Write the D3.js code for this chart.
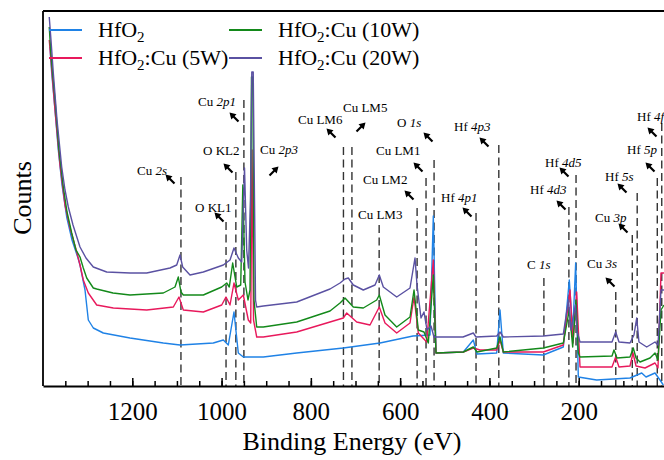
<!DOCTYPE html>
<html>
<head>
<meta charset="utf-8">
<script src="https://cdn.jsdelivr.net/npm/d3@7/dist/d3.min.js"></script>
<style>
  html, body { margin: 0; padding: 0; background: #fff; }
  svg { display: block; }
  svg text { font-family: "Liberation Serif", "Times New Roman", serif; }
</style>
</head>
<body>
<svg id="chart" width="664" height="460"></svg>
<script>
// XPS survey spectra of HfO2 films with Cu doping at different sputtering powers.
// Each series: [binding energy (eV), counts (a.u.)]

const seriesNames = ["HfO2", "HfO2:Cu (5W)", "HfO2:Cu (10W)", "HfO2:Cu (20W)"];
const seriesColors = ["#1f82e6", "#e8195c", "#13891a", "#5a51a2"];

const hfo2 = [
  [1384.3,339],[1380.5,313],[1373.1,276],[1365.7,236],[1357.4,201],[1346.9,169],[1335.0,146],
  [1321.6,128],[1317.1,121],[1305.9,96],[1298.5,66],[1287.3,58],[1264.9,53],[1205.1,48],
  [1130.5,43],[1093.1,41],[1018.5,43],[996.1,46],[984.9,41],[972.2,74],[962.5,33],[951.3,29],
  [906.5,29],[831.7,33],[727.3,38],[645.1,43],[571.2,50],[533.1,51],[525.7,170],[519.7,33],
  [458.5,34],[436.1,46],[427.8,32],[383.7,33],[376.3,76],[368.9,33],[279.3,31],[234.5,39],
  [221.1,106],[213.5,53],[206.8,123],[200.9,9],[159.8,6],[85.1,8],[58.9,13],[49.2,9],
  [29.1,13],[18.0,6],[10.5,1]
];

const hfo2Cu5W = [
  [1386,346],[1382.1,326],[1373.1,276],[1361.9,221],[1350.7,181],[1339.5,158],[1324.5,134],
  [1317.1,121],[1309.7,106],[1298.5,93],[1279.7,81],[1242.5,78],[1167.7,76],[1108.1,79],
  [1095.4,89],[1085.7,76],[1040.9,74],[999.7,81],[990.1,89],[981.1,81],[972.2,103],[962.5,86],
  [951.3,91],[940.1,66],[934.7,63],[931.8,236],[928.4,66],[921.3,49],[906.5,49],[831.7,54],
  [757.1,64],[727.3,68],[719.7,73],[697.3,64],[667.5,61],[646.7,79],[633.9,63],[607.7,53],
  [577.9,63],[568.9,89],[559.3,53],[540.5,44],[525.7,126],[519.7,33],[458.5,34],[436.1,38],
  [421.1,36],[383.7,36],[376.3,46],[368.9,34],[279.3,34],[234.5,41],[219.5,96],[212.8,43],
  [204.6,94],[197.1,19],[125.4,19],[117.2,29],[109.8,19],[85.1,20],[78.4,33],[71.6,20],
  [51.5,18],[29.1,23],[22.4,18],[15.7,113],[9.0,113]
];

const hfo2Cu10W = [
  [1386,359],[1382.1,331],[1373.1,286],[1364.2,236],[1354.5,199],[1346.2,174],[1335.7,153],
  [1326.1,136],[1317.1,129],[1309.7,118],[1302.1,108],[1287.3,98],[1279.7,97],[1243.2,93],
  [1205.1,91],[1130.5,93],[1104.3,99],[1096.9,109],[1090.9,94],[1085.7,91],[1040.9,91],
  [999.7,99],[988.5,103],[982.7,99],[975.1,123],[966.1,99],[957.1,101],[952.4,201],[947.5,104],
  [940.8,86],[936.3,96],[933.0,309],[930.0,309],[927.4,86],[921.3,59],[906.5,59],[831.7,64],
  [757.1,75],[734.7,83],[723.5,88],[704.9,79],[682.5,78],[652.5,86],[646.7,91],[633.9,71],
  [607.7,59],[577.9,69],[568.9,96],[559.3,56],[546.6,54],[536.9,43],[525.7,111],[519.7,33],
  [458.5,34],[436.1,39],[427.8,34],[383.7,38],[376.3,49],[368.9,34],[279.3,38],[234.5,43],
  [221.1,76],[213.5,39],[206.1,86],[200.9,33],[197.1,29],[125.4,30],[121.0,36],[114.3,28],
  [85.1,29],[77.8,38],[71.6,28],[62.7,24],[40.3,28],[29.1,33],[22.4,26],[15.7,76],[9.0,81]
];

const hfo2Cu20W = [
  [1386,369],[1382.1,346],[1376.9,313],[1368.6,266],[1358.1,219],[1350.7,196],[1343.3,179],
  [1332.8,161],[1317.1,139],[1303.7,128],[1287.3,119],[1257.3,114],[1205.1,113],[1167.7,113],
  [1115.5,118],[1100.5,121],[1093.1,131],[1087.1,119],[1070.7,111],[1040.9,114],[996.1,121],
  [981.1,126],[972.2,138],[962.5,128],[954.9,124],[948.6,218],[943.7,136],[939.7,118],
  [935.2,186],[932.3,314],[929.1,314],[926.2,186],[924.0,86],[921.3,79],[906.5,80],[831.7,84],
  [757.1,97],[734.7,103],[723.5,107],[716.1,108],[704.9,101],[682.5,96],[656.3,101],[646.7,111],
  [637.7,99],[607.7,89],[577.9,98],[571.2,116],[566.7,128],[562.2,101],[553.3,68],[546.6,74],
  [539.8,56],[530.9,60],[524.2,49],[459.2,49],[436.1,53],[430.1,49],[383.7,50],[376.3,54],
  [368.9,49],[279.3,50],[234.5,52],[222.9,86],[217.4,56],[207.4,81],[204.0,55],[197.1,44],
  [125.4,44],[117.2,54],[109.8,44],[85.1,43],[76.2,51],[70.1,68],[65.0,44],[47.7,39],
  [29.1,44],[22.4,41],[15.7,96],[9.0,96]
];

const seriesData = [hfo2, hfo2Cu5W, hfo2Cu10W, hfo2Cu20W];

// Axis ticks
const majorTicks = [1200, 1000, 800, 600, 400, 200];
const minorTicks = d3.range(1350, 0, -50);

// Peak assignments with marker lines (label, binding energy in eV)
const peakNames = ["Cu 2s","O KL1","O KL2","Cu 2p1","Cu LM6","Cu LM5","Cu LM3","Cu LM2","Cu LM1",
  "O 1s","Hf 4p1","Hf 4p3","C 1s","Hf 4d3","Hf 4d5","Cu 3s","Cu 3p","Hf 5s","Hf 5p","Hf 4f"];
const peakEnergies = [1091, 990, 968, 950, 727, 708, 647, 562, 542,
  524, 430, 379, 278, 222, 206, 117, 80, 69, 24, 14];
// Unlined annotation for the main Cu 2p3 line
const extraNames = ["Cu 2p3"];

// Annotation layout: [label left x, label baseline, arrow cx, arrow cy, arrow direction, marker top y]
const peakLayout = [
  [137,175, 170,179,"nw",177],
  [195,212, 219,217,"nw",222],
  [203,155, 228,168,"nw",172],
  [198,106, 234,117,"nw",100],
  [298,124, 331,133,"nw",147],
  [343,112, 361,127,"ne",147],
  [358,219, null,null,null,225],
  [363,184, 409,195,"nw",208],
  [376,155, 418,167,"nw",178],
  [397,127, 428,137,"nw",160],
  [441,202, 467,212,"nw",213],
  [454,131, 484,142,"nw",145],
  [527,269, null,null,null,278],
  [530,194, 561,205,"nw",207],
  [545,167, 564,172,"nw",175],
  [587,268, 610,282,"nw",292],
  [595,222, 623,228,"nw",235],
  [605,181, 622,188,"nw",193],
  [627,154, 650,167,"nw",178],
  [637,121, 652,132,"nw",123]
];
const extraLayout = [[260,154, 274,171,"ne"]];

// ---- chart ----
const svg = d3.select("#chart");
const plot = { left: 43, right: 668, top: 11, bottom: 386 };
const serif = "Liberation Serif, Times New Roman, serif";

const x = d3.scaleLinear().domain([1400, 0]).range([plot.left, plot.right]);
const y = d3.scaleLinear().domain([0, 375]).range([plot.bottom, plot.top]);

svg.append("defs").append("clipPath").attr("id", "plotClip")
  .append("rect").attr("x", plot.left).attr("y", plot.top)
  .attr("width", plot.right - plot.left).attr("height", plot.bottom - plot.top);

// Peak marker lines
const markers = svg.append("g").attr("clip-path", "url(#plotClip)");
peakEnergies.forEach((e, i) => {
  markers.append("line")
    .attr("x1", x(e)).attr("x2", x(e))
    .attr("y1", peakLayout[i][5]).attr("y2", plot.bottom)
    .attr("stroke", "#333").attr("stroke-width", 1.4)
    .attr("stroke-dasharray", "8,4.5");
});

// Spectra
const line = d3.line().x(d => x(d[0])).y(d => y(d[1]));
const curves = svg.append("g").attr("clip-path", "url(#plotClip)");
seriesData.forEach((s, i) => {
  curves.append("path").datum(s)
    .attr("d", line)
    .attr("fill", "none")
    .attr("stroke", seriesColors[i])
    .attr("stroke-width", 1.4)
    .attr("stroke-linejoin", "round");
});

// Frame
svg.append("line").attr("x1", plot.left).attr("x2", plot.right)
  .attr("y1", plot.top).attr("y2", plot.top).attr("stroke", "#000").attr("stroke-width", 1.8);
svg.append("line").attr("x1", plot.left).attr("x2", plot.left)
  .attr("y1", plot.top).attr("y2", plot.bottom).attr("stroke", "#000").attr("stroke-width", 1.8);
svg.append("line").attr("x1", plot.right).attr("x2", plot.right)
  .attr("y1", plot.top).attr("y2", plot.bottom).attr("stroke", "#000").attr("stroke-width", 1.8);

// Bottom axis: minor ticks then major ticks with labels (ticks point inward)
const minorAxis = d3.axisBottom(x).tickValues(minorTicks).tickSizeInner(-5).tickSizeOuter(0).tickFormat("");
const gMinor = svg.append("g").attr("transform", `translate(0,${plot.bottom})`).call(minorAxis);
gMinor.select(".domain").remove();
gMinor.selectAll(".tick line").attr("stroke", "#000").attr("stroke-width", 1.5);

const majorAxis = d3.axisBottom(x).tickValues(majorTicks).tickSizeInner(-8).tickSizeOuter(0)
  .tickPadding(16).tickFormat(d3.format("d"));
const gMajor = svg.append("g").attr("transform", `translate(0,${plot.bottom})`).call(majorAxis)
  .attr("font-family", serif).attr("font-size", 25);
gMajor.select(".domain").attr("stroke", "#000").attr("stroke-width", 1.8);
gMajor.selectAll(".tick line").attr("stroke", "#000").attr("stroke-width", 1.5);
gMajor.selectAll(".tick text").attr("fill", "#000");

// Axis titles
svg.append("text").attr("x", 352).attr("y", 450).attr("text-anchor", "middle")
  .attr("font-size", 26).attr("fill", "#000").text("Binding Energy (eV)");
svg.append("text").attr("transform", "translate(31,198) rotate(-90)").attr("text-anchor", "middle")
  .attr("font-size", 26).attr("fill", "#000").text("Counts");

// Arrows
function arrow(g, cx, cy, dir) {
  const sx = dir === "ne" ? 1 : -1;
  const tip = [cx + sx * 4.5, cy - 4.5];
  const tail = [cx - sx * 4.5, cy + 4.5];
  g.append("line")
    .attr("x1", tail[0]).attr("y1", tail[1])
    .attr("x2", tip[0] - sx * 2.5).attr("y2", tip[1] + 2.5)
    .attr("stroke", "#000").attr("stroke-width", 2.2);
  g.append("path")
    .attr("d", `M${tip[0]},${tip[1]} L${tip[0] - sx * 7},${tip[1] + 1.8} L${tip[0] - sx * 1.8},${tip[1] + 7} Z`)
    .attr("fill", "#000");
}

function peakLabel(g, name, lx, ly) {
  const parts = name.split(" ");
  const t = g.append("text").attr("x", lx).attr("y", ly).attr("font-size", 13).attr("fill", "#000");
  t.append("tspan").text(parts[0] + " ");
  const level = parts[1];
  t.append("tspan").attr("font-style", /\d[spdf]/.test(level) ? "italic" : "normal").text(level);
}

const notes = svg.append("g");
peakNames.forEach((n, i) => {
  const L = peakLayout[i];
  peakLabel(notes, n, L[0], L[1]);
  if (L[4]) arrow(notes, L[2], L[3], L[4]);
});
extraNames.forEach((n, i) => {
  const L = extraLayout[i];
  peakLabel(notes, n, L[0], L[1]);
  arrow(notes, L[2], L[3], L[4]);
});

// Legend
const legendPos = [[49, 30], [49, 58], [229, 30], [229, 58]];
const legend = svg.append("g");
seriesNames.forEach((name, i) => {
  const [lx, ly] = legendPos[i];
  legend.append("line").attr("x1", lx).attr("x2", lx + 33).attr("y1", ly).attr("y2", ly)
    .attr("stroke", seriesColors[i]).attr("stroke-width", 2);
  const t = legend.append("text").attr("x", lx + 49).attr("y", ly + 7)
    .attr("font-size", 22).attr("fill", "#000");
  t.append("tspan").text("HfO");
  t.append("tspan").attr("font-size", 15).attr("dy", 5).text("2");
  const rest = name.slice(4);
  if (rest) t.append("tspan").attr("dy", -5).text(rest);
});
</script>
</body>
</html>
